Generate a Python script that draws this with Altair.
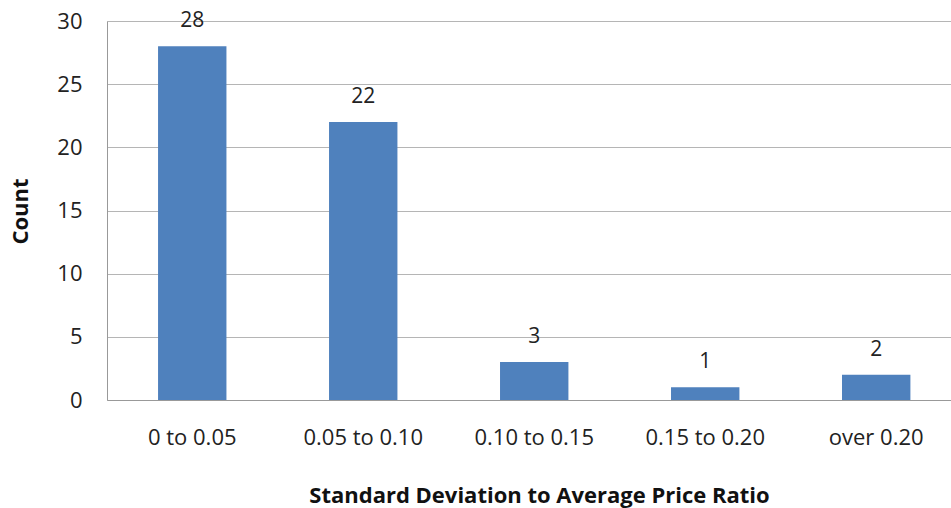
import altair as alt
import pandas as pd

categories = ["0 to 0.05", "0.05 to 0.10", "0.10 to 0.15", "0.15 to 0.20", "over 0.20"]
counts = [28, 22, 3, 1, 2]

df = pd.DataFrame({"cat": categories, "count": counts})

FONT = "Open Sans"

base = alt.Chart(df).encode(
    x=alt.X("cat:N", sort=categories,
            scale=alt.Scale(paddingInner=0.6, paddingOuter=0.268, align=0.557),
            axis=alt.Axis(title="Standard Deviation to Average Price Ratio",
                          labelAngle=0, labelFontSize=22, labelFont=FONT, labelColor="#222",
                          labelPadding=27, ticks=False, domainColor="#999",
                          titleFont=FONT, titleFontSize=22, titleFontWeight="bold",
                          titleColor="#111", titleX=432, titleY=95,
                          titleBaseline="middle", titleAlign="center")),
    y=alt.Y("count:Q", scale=alt.Scale(domain=[0, 30], nice=False),
            axis=alt.Axis(title="Count", values=[0, 5, 10, 15, 20, 25, 30],
                          labelFontSize=22, labelFont=FONT, labelColor="#222",
                          labelPadding=25, ticks=False, domainColor="#999",
                          gridColor="#b5b5b5", titleFont=FONT, titleFontSize=22,
                          titleFontWeight="bold", titleColor="#111",
                          titleX=-87, titleY=190, titleAngle=-90,
                          titleAlign="center", titleBaseline="middle")),
)

bars = base.mark_bar(color="#4F81BD")
labels = base.mark_text(dy=-19, baseline="alphabetic", fontSize=21, font=FONT, color="#222").encode(
    text="count:Q")

chart = (bars + labels).properties(
    width=844, height=379,
    autosize=alt.AutoSizeParams(type="none"),
    padding={"left": 107, "top": 21, "right": 0, "bottom": 108},
).configure_view(stroke=None).configure(background="white")

chart.save("out.html", embed_options={"renderer": "svg", "actions": False})
